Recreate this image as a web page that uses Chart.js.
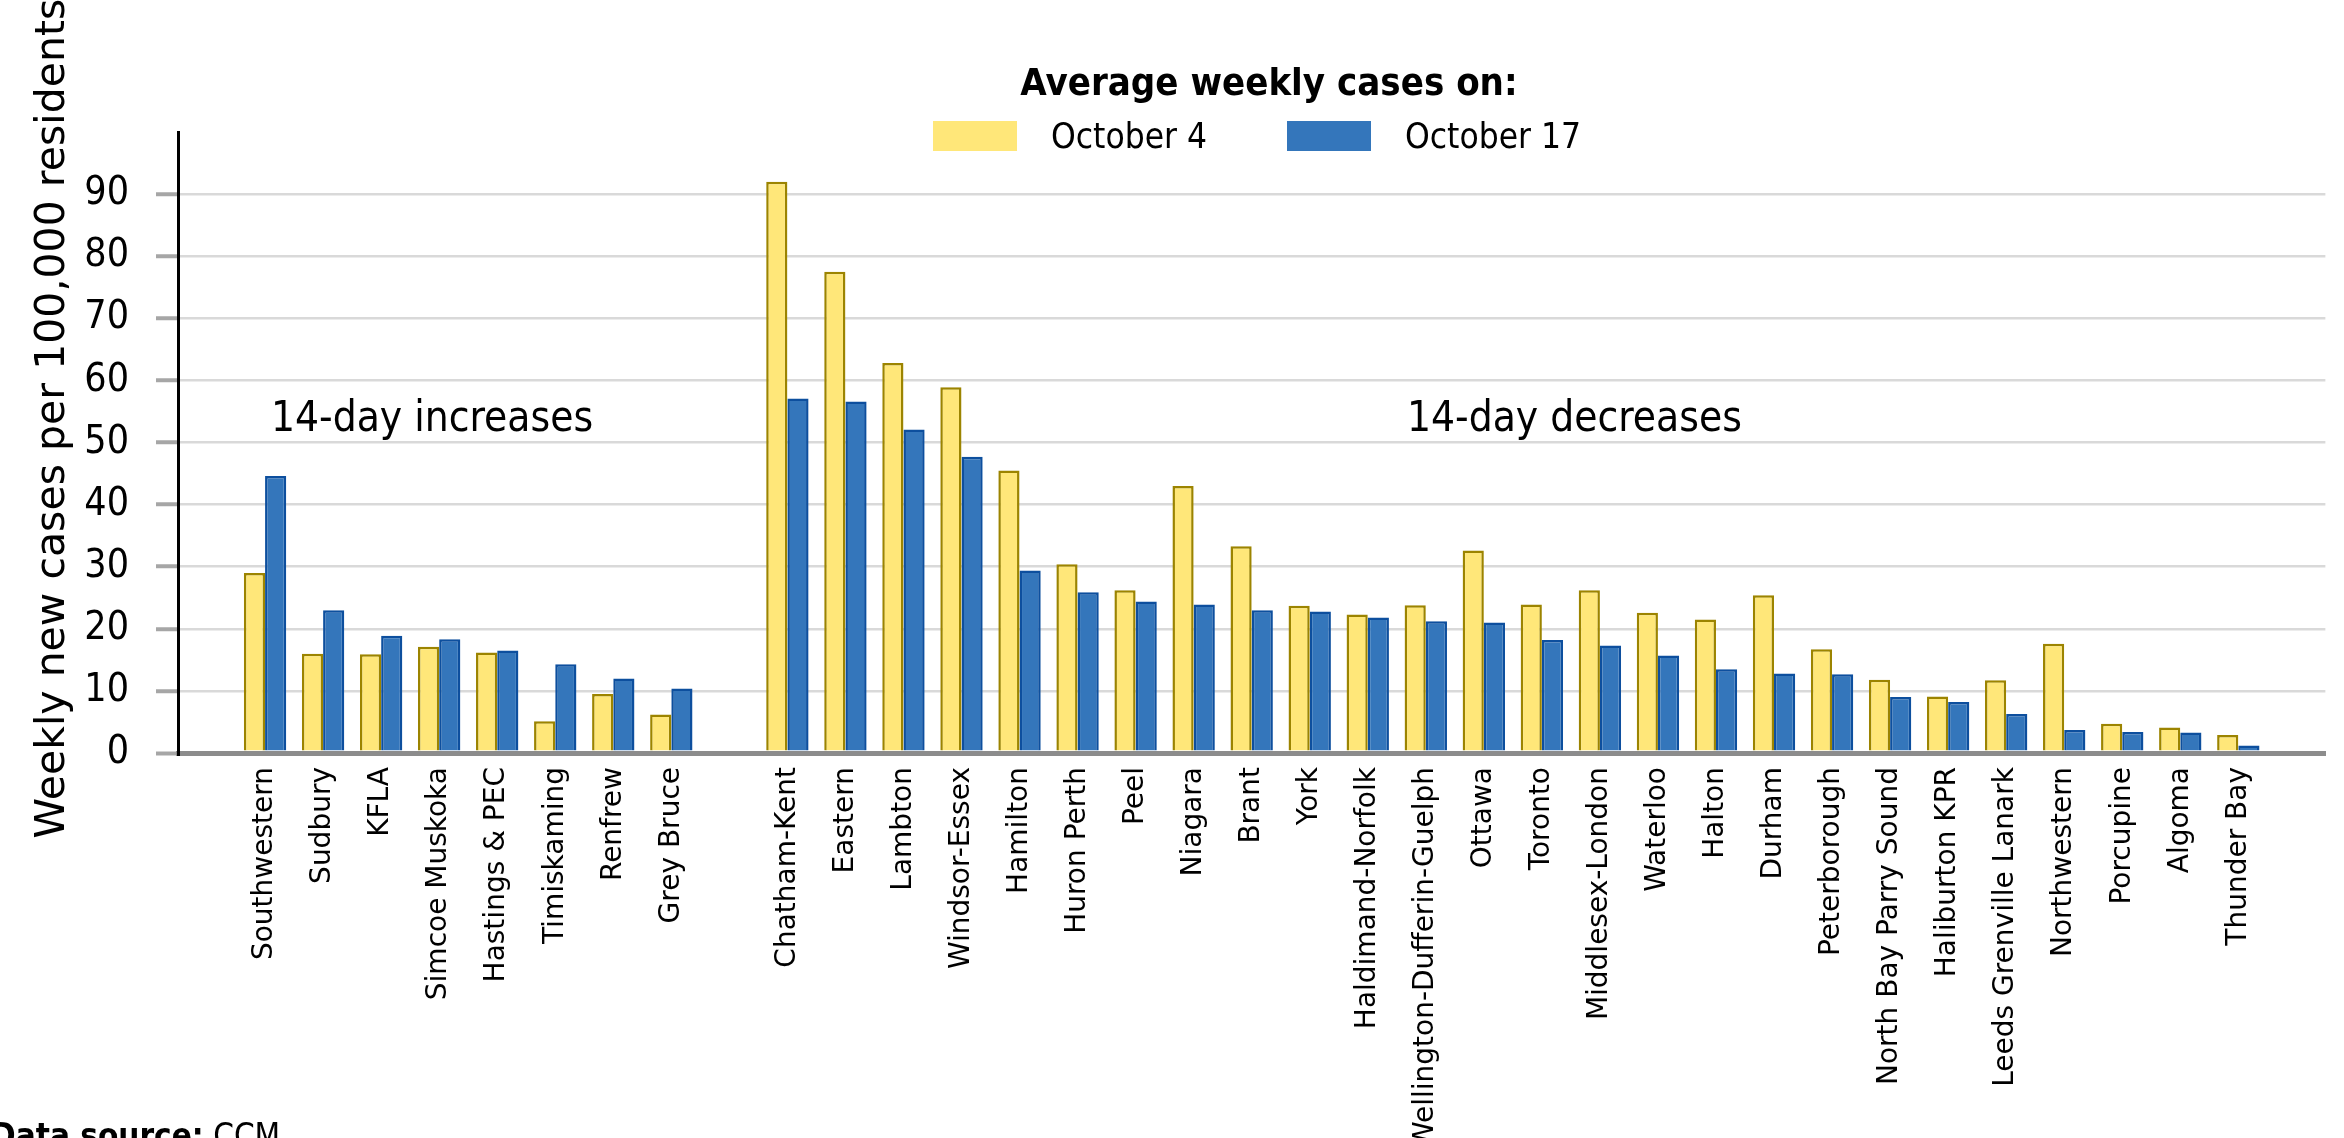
<!DOCTYPE html>
<html>
<head>
<meta charset="utf-8">
<title>Average weekly cases by health unit</title>
<script src="https://cdn.jsdelivr.net/npm/chart.js@4/dist/chart.umd.min.js"></script>
<style>
  html, body { margin: 0; padding: 0; background: #fff; overflow: hidden; }
  #wrap { position: relative; width: 2344px; height: 1138px; }
  #graficaCasos { position: absolute; left: 0; top: 0; }
  .txt { position: absolute; white-space: nowrap; color: #000;
         font-family: "Liberation Sans Narrow", "DejaVu Sans Condensed", "Open Sans", sans-serif; line-height: 1; }
  .caja { position: absolute; width: 84px; height: 30px; }
</style>
</head>
<body>
<div id="wrap">
  <canvas id="graficaCasos" width="2344" height="1138"></canvas>

  <!-- leyenda -->
  <div class="txt" style="left:1269px; top:63px; font-size:38px; font-weight:bold; transform:translateX(-50%);">Average weekly cases on:</div>
  <div class="caja" style="left:933px; top:121px; background:#ffe779;"></div>
  <div class="txt" style="left:1051px; top:119px; font-size:35px;">October 4</div>
  <div class="caja" style="left:1287px; top:121px; background:#3476bb;"></div>
  <div class="txt" style="left:1405px; top:119px; font-size:35px;">October 17</div>

  <!-- anotaciones -->
  <div class="txt" style="left:271px; top:396px; font-size:42px;">14-day increases</div>
  <div class="txt" style="left:1407px; top:396px; font-size:42px;">14-day decreases</div>

  <div class="txt" style="left:-9px; top:1119px; font-size:33px;"><b>Data source:</b> CCM</div>
</div>

<script>
// Unidades de salud con aumento en 14 días
const aumentos = ["Southwestern", "Sudbury", "KFLA", "Simcoe Muskoka", "Hastings & PEC",
                  "Timiskaming", "Renfrew", "Grey Bruce"];
const aumentosOct4  = [29.0, 16.0, 15.9, 17.1, 16.2, 5.1, 9.5, 6.2];
const aumentosOct17 = [44.6, 23.0, 18.9, 18.3, 16.5, 14.3, 12.0, 10.4];

// Unidades de salud con disminución en 14 días
const disminuciones = ["Chatham-Kent", "Eastern", "Lambton", "Windsor-Essex", "Hamilton",
                       "Huron Perth", "Peel", "Niagara", "Brant", "York", "Haldimand-Norfolk",
                       "Wellington-Dufferin-Guelph", "Ottawa", "Toronto", "Middlesex-London",
                       "Waterloo", "Halton", "Durham", "Peterborough", "North Bay Parry Sound",
                       "Haliburton KPR", "Leeds Grenville Lanark", "Northwestern", "Porcupine",
                       "Algoma", "Thunder Bay"];
const disminucionesOct4  = [92.0, 77.5, 62.8, 58.9, 45.5, 30.4, 26.2, 43.0, 33.3, 23.7, 22.3,
                            23.8, 32.6, 23.9, 26.2, 22.6, 21.5, 25.4, 16.7, 11.8, 9.1, 11.7,
                            17.6, 4.7, 4.1, 2.9];
const disminucionesOct17 = [57.1, 56.6, 52.1, 47.7, 29.4, 25.9, 24.4, 23.9, 23.0, 22.8, 21.8,
                            21.2, 21.0, 18.2, 17.3, 15.7, 13.5, 12.8, 12.7, 9.0, 8.2, 6.3,
                            3.7, 3.4, 3.3, 1.2];

const ticksY = [0, 10, 20, 30, 40, 50, 60, 70, 80, 90];

// categorías vacías para separar los dos grupos
const etiquetas = ["", ...aumentos, "", ...disminuciones, ""];
const serieOct4  = [null, ...aumentosOct4, null, ...disminucionesOct4, null];
const serieOct17 = [null, ...aumentosOct17, null, ...disminucionesOct17, null];

const fuenteAngosta = "'Liberation Sans Narrow', 'DejaVu Sans Condensed', 'Open Sans', sans-serif";
const fuenteVerdana = "'DejaVu Sans', Verdana, sans-serif";

// título del eje Y, dibujado a mano para poder subirlo un poco
const tituloEjeY = {
    id: "tituloEjeY",
    afterDraw(chart) {
        const { ctx, chartArea } = chart;
        ctx.save();
        ctx.translate(53, (chartArea.top + chartArea.bottom) / 2 - 24);
        ctx.rotate(-Math.PI / 2);
        ctx.font = "41px " + fuenteVerdana;
        ctx.fillStyle = "#000";
        ctx.textAlign = "center";
        ctx.textBaseline = "middle";
        ctx.fillText("Weekly new cases per 100,000 residents", 0, 0);
        ctx.restore();
    }
};

const ctxCasos = document.getElementById("graficaCasos").getContext("2d");

new Chart(ctxCasos, {
    type: "bar",
    data: {
        labels: etiquetas,
        datasets: [{
            label: "October 4",
            data: serieOct4,
            backgroundColor: "#ffe779",
            borderColor: "#9c8400",
            borderWidth: 2.5
        }, {
            label: "October 17",
            data: serieOct17,
            backgroundColor: "#3476bb",
            borderColor: "#0d4f9e",
            borderWidth: 2.5
        }]
    },
    options: {
        responsive: false,
        animation: false,
        layout: { padding: { top: 132, right: 4, left: 0, bottom: 0 } },
        plugins: {
            legend: { display: false },
            tooltip: { enabled: false }
        },
        datasets: {
            bar: { categoryPercentage: 0.73, barPercentage: 1.0 }
        },
        scales: {
            x: {
                z: 1,
                grid: { display: false, drawTicks: false },
                border: { display: true, color: "#8c8c8c", width: 5 },
                ticks: {
                    autoSkip: false,
                    minRotation: 90,
                    maxRotation: 90,
                    padding: 14,
                    color: "#000",
                    font: { family: fuenteVerdana, size: 28 }
                },
                afterFit: (escala) => { escala.height = 1138 - 753; }
            },
            y: {
                min: 0,
                max: 100,
                afterBuildTicks: (escala) => {
                    escala.ticks = [...ticksY, 100].map(v => ({ value: v }));
                },
                ticks: {
                    padding: 27,
                    color: "#000",
                    font: { family: fuenteAngosta, size: 39 },
                    callback: (v) => (ticksY.includes(v) ? String(v) : "")
                },
                grid: {
                    color: (c) => c.tick.value === 100 ? "rgba(0,0,0,0)" : (c.tick.value === 0 ? "#8c8c8c" : "#d9d9d9"),
                    lineWidth: (c) => c.tick.value === 0 ? 5 : 2.5,
                    tickLength: 22,
                    tickColor: (c) => c.tick.value === 100 ? "rgba(0,0,0,0)" : "#a6a6a6",
                    tickWidth: 4
                },
                border: { display: true, color: "#000", width: 3 },
                afterFit: (escala) => { escala.width = 178; }
            }
        }
    },
    plugins: [tituloEjeY]
});
</script>
</body>
</html>
